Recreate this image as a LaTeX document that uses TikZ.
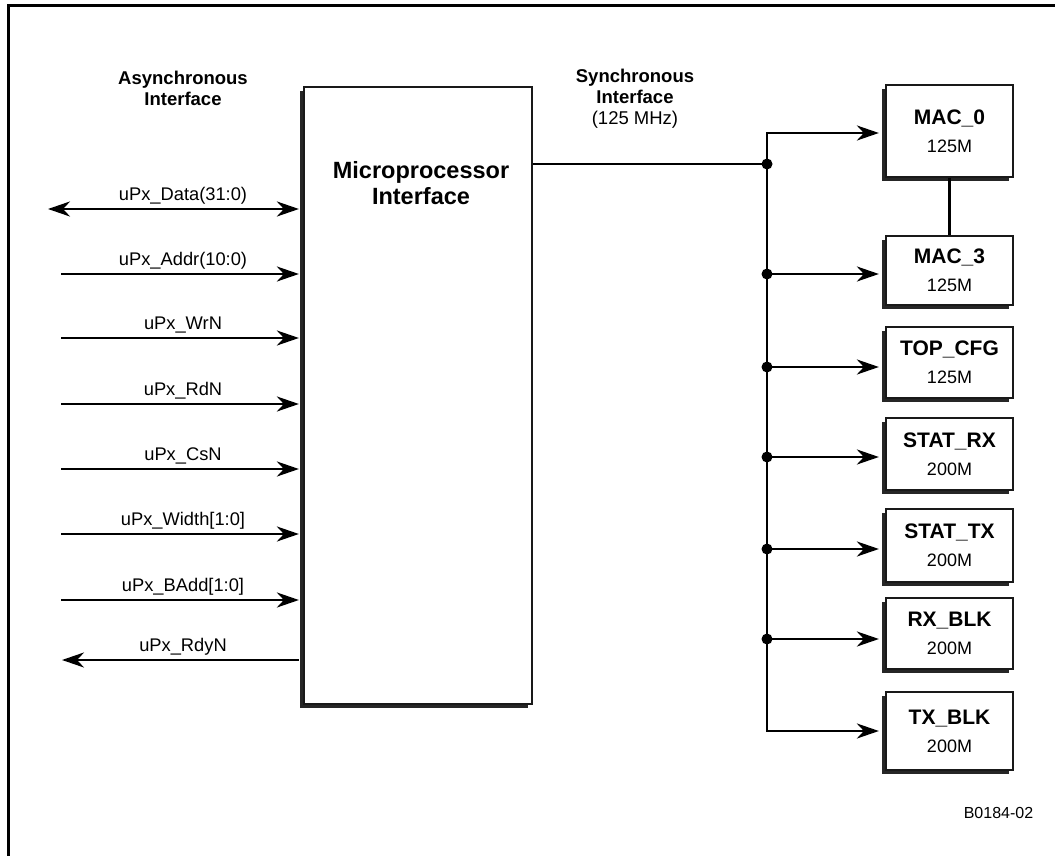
\documentclass[tikz,border=0pt]{standalone}
\usepackage{fontspec}
\setmainfont{Liberation Sans}
\usetikzlibrary{arrows.meta,shadows}
\begin{document}
\begin{tikzpicture}[x=1pt,y=-1pt,
  tip/.tip={Stealth[length=22pt,width=15pt,inset=7pt]},
  wire/.style={line width=2.7pt},
  arr/.style={wire,-tip},
  darr/.style={wire,tip-tip},
  blockshadow/.style={general shadow={shadow xshift=-4pt,shadow yshift=-4pt,fill=black!85}},
  blk/.style={draw=black!90,line width=2.2pt,fill=white,blockshadow,minimum width=127pt,align=center,inner sep=0pt,
    font=\fontsize{18}{28}\selectfont},
  lbl/.style={inner sep=0pt,anchor=south,font=\fontsize{18.3}{21}\selectfont},
  head/.style={inner sep=0pt,align=center,font=\bfseries\fontsize{18.5}{21}\selectfont},
  dot/.style={circle,fill=black,inner sep=0pt,minimum size=11pt}
]
\useasboundingbox (0,0) rectangle (1055,856);
\draw[line width=3pt] (8.5,870) -- (8.5,6) -- (1070,6);

% headings
\node[head] (ahead) at (183,88) {Asynchronous\\Interface};
\node[head] (shead) at (635,99) {Synchronous\\Interface\\{\mdseries(125 MHz)}};

% main block
\node[blk,minimum width=228pt,minimum height=617pt] (mp) at (418,395.5) {};
\node[inner sep=0pt,align=center,font=\bfseries\fontsize{23.5}{26}\selectfont] (mptxt) at (421,183) {Microprocessor\\Interface};

% right blocks
\newcommand{\blkname}[2]{{\bfseries\fontsize{21}{28}\selectfont #1}\\#2}
\node[blk,minimum height=92pt] (mac0) at (949.5,131) {\blkname{MAC\_0}{125M}};
\node[blk,minimum height=69pt] (mac3) at (949.5,270.5) {\blkname{MAC\_3}{125M}};
\node[blk,minimum height=71pt] (topcfg) at (949.5,362.5) {\blkname{TOP\_CFG}{125M}};
\node[blk,minimum height=72pt] (statrx) at (949.5,454) {\blkname{STAT\_RX}{200M}};
\node[blk,minimum height=73pt] (stattx) at (949.5,545.5) {\blkname{STAT\_TX}{200M}};
\node[blk,minimum height=71pt] (rxblk) at (949.5,633.5) {\blkname{RX\_BLK}{200M}};
\node[blk,minimum height=78pt] (txblk) at (949.5,731) {\blkname{TX\_BLK}{200M}};

\draw[wire] (mac0.south) -- (mac3.north);

% synchronous bus
\coordinate (jm) at (767,164);
\coordinate (j0) at (767,133);
\coordinate (j1) at (767,274);
\coordinate (j2) at (767,367);
\coordinate (j3) at (767,457);
\coordinate (j4) at (767,549);
\coordinate (j5) at (767,639);
\coordinate (j6) at (767,731);
\draw[wire] (jm -| mp.east) -- (jm);
\draw[wire,line cap=rect] (j0) -- (j6);
\draw[arr,shorten >=6pt] (j0) -- (j0 -| mac0.west);
\draw[arr,shorten >=6pt] (j1) -- (j1 -| mac3.west);
\draw[arr,shorten >=6pt] (j2) -- (j2 -| topcfg.west);
\draw[arr,shorten >=6pt] (j3) -- (j3 -| statrx.west);
\draw[arr,shorten >=6pt] (j4) -- (j4 -| stattx.west);
\draw[arr,shorten >=6pt] (j5) -- (j5 -| rxblk.west);
\draw[arr,shorten >=6pt] (j6) -- (j6 -| txblk.west);
\foreach \j in {jm,j1,j2,j3,j4,j5} \node[dot] (d\j) at (\j) {};

% asynchronous signals
\coordinate (a1) at (48,209);
\coordinate (a2) at (61,274);
\coordinate (a3) at (61,338);
\coordinate (a4) at (61,404);
\coordinate (a5) at (61,469);
\coordinate (a6) at (61,534);
\coordinate (a7) at (61,600);
\coordinate (a8) at (62,660);
\draw[darr,shorten >=4pt] (a1) -- (a1 -| mp.west);
\foreach \a in {a2,a3,a4,a5,a6,a7} \draw[arr,shorten >=4pt] (\a) -- (\a -| mp.west);
\draw[arr,shorten <=4pt] (a8 -| mp.west) -- (a8);

\node[lbl] (l1) at (183,204) {uPx\_Data(31:0)};
\node[lbl] (l2) at (183,269) {uPx\_Addr(10:0)};
\node[lbl] (l3) at (183,333) {uPx\_WrN};
\node[lbl] (l4) at (183,399) {uPx\_RdN};
\node[lbl] (l5) at (183,464) {uPx\_CsN};
\node[lbl] (l6) at (183,529) {uPx\_Width[1:0]};
\node[lbl] (l7) at (183,595) {uPx\_BAdd[1:0]};
\node[lbl] (l8) at (183,655) {uPx\_RdyN};

\node[inner sep=0pt,font=\fontsize{16}{19}\selectfont] (code) at (998.5,813) {B0184-02};
\end{tikzpicture}
\end{document}
